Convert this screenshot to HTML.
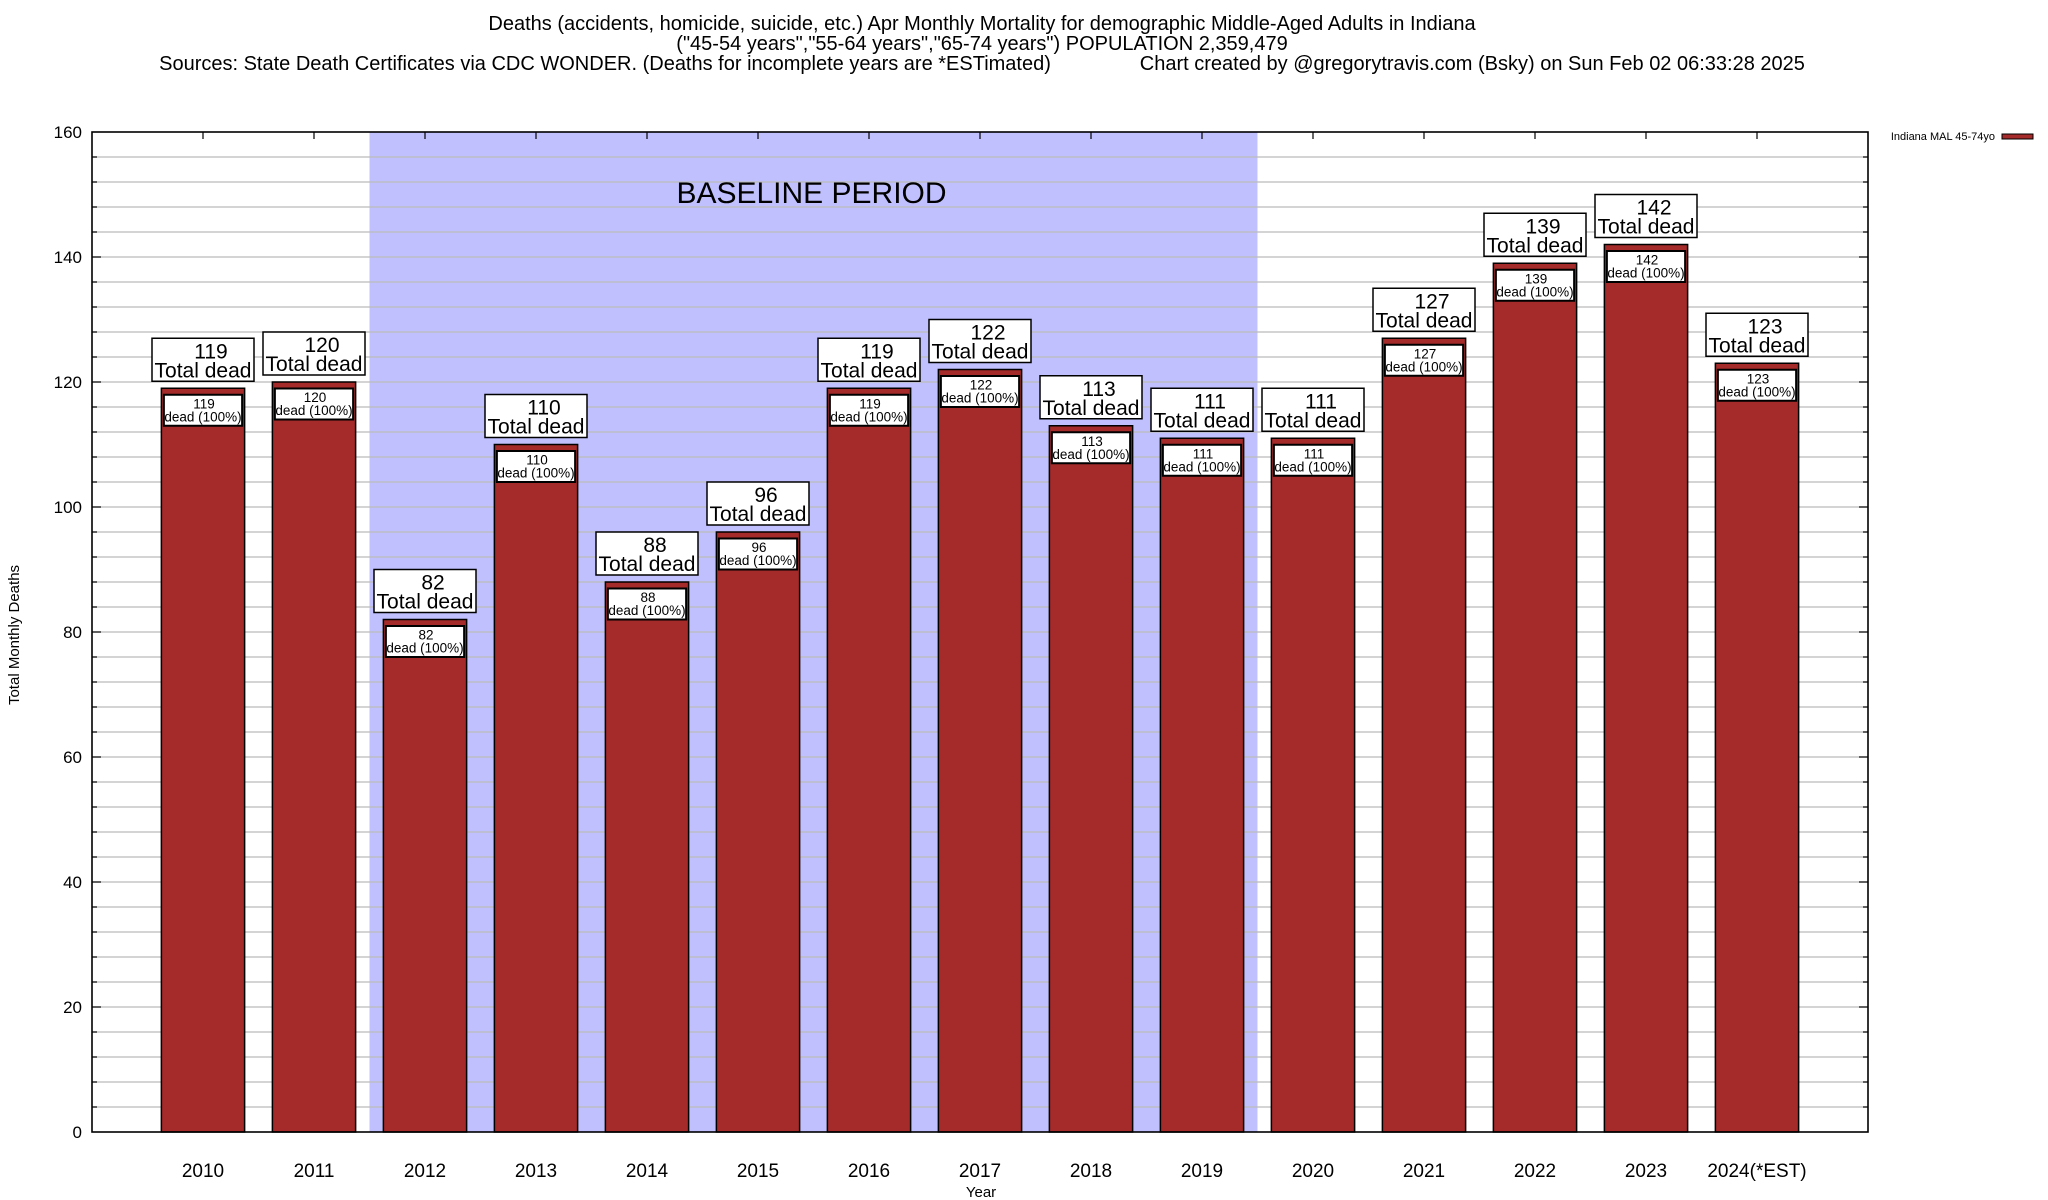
<!DOCTYPE html>
<html><head><meta charset="utf-8"><style>
html,body{margin:0;padding:0;background:#fff;}
svg{display:block;font-family:"Liberation Sans",sans-serif;}
</style></head><body>
<svg id="chart" width="2048" height="1200" viewBox="0 0 2048 1200" xmlns="http://www.w3.org/2000/svg">
<g font-size="20" text-anchor="middle" fill="#000">
<text x="982" y="30">Deaths (accidents, homicide, suicide, etc.) Apr Monthly Mortality for demographic Middle-Aged Adults in Indiana</text>
<text x="982" y="50">("45-54 years","55-64 years","65-74 years") POPULATION 2,359,479</text>
<text x="982" y="70" xml:space="preserve">Sources: State Death Certificates via CDC WONDER. (Deaths for incomplete years are *ESTimated)                Chart created by @gregorytravis.com (Bsky) on Sun Feb 02 06:33:28 2025</text>
</g>
<g id="plot"></g>
</svg>
<script>
const categories = ["2010","2011","2012","2013","2014","2015","2016","2017","2018","2019","2020","2021","2022","2023","2024(*EST)"];
const deaths = [119,120,82,110,88,96,119,122,113,111,111,127,139,142,123];
const yTicks = [0,20,40,60,80,100,120,140,160];
const baselineRange = [1.5,9.5];

const NS = "http://www.w3.org/2000/svg";
const L = 92, R = 1868, T = 132, B = 1132;
const xMin = -1, xMax = 15, yMin = 0, yMax = 160;
function xs(v){ return L + (v - xMin) / (xMax - xMin) * (R - L); }
function ys(v){ return B - (v - yMin) / (yMax - yMin) * (B - T); }
const g = document.getElementById('plot');
function mk(tag, attrs, parent, text){
  const e = document.createElementNS(NS, tag);
  for (const k in attrs) e.setAttribute(k, attrs[k]);
  if (text !== undefined) e.textContent = text;
  (parent || g).appendChild(e);
  return e;
}
const step = xs(1) - xs(0);
const bw = step * 0.75;

const band = mk('rect', {x: xs(baselineRange[0]), y: T, width: xs(baselineRange[1]) - xs(baselineRange[0]), height: B - T, fill: '#c0c0ff'});



for (let v = 4; v < yMax; v += 4) {
  const gl = mk('line', {x1: L, x2: R, y1: ys(v), y2: ys(v), stroke: '#bbbbbb', 'stroke-width': 1.3});
  
  
  const major = v % 20 === 0;
  const len = major ? 9 : 5;
  const t1 = mk('line', {x1: L, x2: L + len, y1: ys(v), y2: ys(v), stroke: '#000', 'stroke-width': 1.2});
  
  
  const t2 = mk('line', {x1: R, x2: R - len, y1: ys(v), y2: ys(v), stroke: '#000', 'stroke-width': 1.2});
  
  
}

const bt = mk('text', {x: (xs(baselineRange[0]) + xs(baselineRange[1])) / 2 - 2, y: 203, 'font-size': 30, 'text-anchor': 'middle'}, g, 'BASELINE PERIOD');



yTicks.forEach(v => {
  const t = mk('text', {x: 82, y: ys(v) + 6, 'font-size': 17, 'text-anchor': 'end'}, g, String(v));
  
  
});

categories.forEach((c, i) => {
  const cx = xs(i), v = deaths[i];
  const grp = mk('g', {});
  
  
  const bar = mk('rect', {x: cx - bw/2, y: ys(v), width: bw, height: B - ys(v), fill: '#a52a2a', stroke: '#000', 'stroke-width': 1.5}, grp);
  
  
  const ib = mk('rect', {x: cx - bw/2 + 2.5, y: ys(v) + 6.5, width: bw - 5, height: 31, fill: '#fff', stroke: '#000', 'stroke-width': 2}, grp);
  
  
  const it1 = mk('text', {x: cx + 1, y: ys(v) + 20, 'font-size': 13.5, 'text-anchor': 'middle'}, grp, String(v));
  
  
  const it2 = mk('text', {x: cx, y: ys(v) + 33, 'font-size': 13.5, 'text-anchor': 'middle'}, grp, 'dead (100%)');
  
  
  const ob = mk('rect', {x: cx - 51, y: ys(v) - 50, width: 102, height: 43, fill: '#fff', stroke: '#000', 'stroke-width': 1.5}, grp);
  
  
  const ot1 = mk('text', {x: cx + 8, y: ys(v) - 30, 'font-size': 21, 'text-anchor': 'middle'}, grp, String(v));
  
  
  const ot2 = mk('text', {x: cx, y: ys(v) - 11, 'font-size': 21, 'text-anchor': 'middle'}, grp, 'Total dead');
  
  
  const tt = mk('line', {x1: cx, x2: cx, y1: T, y2: T + 7, stroke: '#000', 'stroke-width': 1.2});
  
  
  const xl = mk('text', {x: cx, y: 1177, 'font-size': 19, 'text-anchor': 'middle'}, g, c);
  
  
});

const fr = mk('rect', {x: L, y: T, width: R - L, height: B - T, fill: 'none', stroke: '#000', 'stroke-width': 1.6});



const yt = mk('text', {x: 0, y: 0, 'font-size': 15, 'text-anchor': 'middle', transform: 'translate(19,635) rotate(-90)'}, g, 'Total Monthly Deaths');


const xt = mk('text', {x: 981, y: 1197, 'font-size': 15, 'text-anchor': 'middle'}, g, 'Year');



const lg = mk('g', {});


const lt = mk('text', {x: 1995, y: 140, 'font-size': 11, 'text-anchor': 'end'}, lg, 'Indiana MAL 45-74yo');


const ls = mk('rect', {x: 2002, y: 134, width: 31, height: 5, fill: '#a52a2a', stroke: '#000', 'stroke-width': 1}, lg);


</script>
</body></html>
